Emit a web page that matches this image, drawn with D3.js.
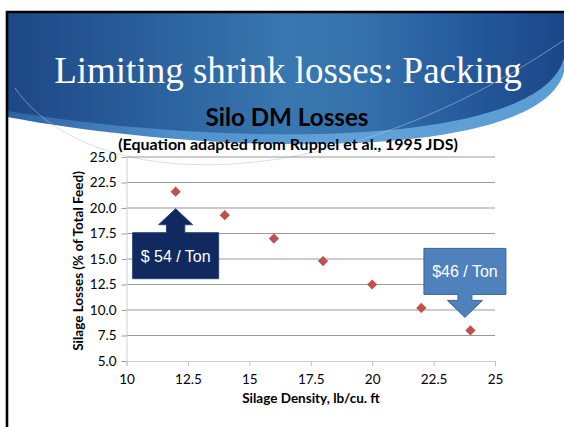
<!DOCTYPE html>
<html>
<head>
<meta charset="utf-8">
<script src="https://cdn.jsdelivr.net/npm/d3@7"></script>
<style>
  html, body { margin: 0; padding: 0; background: #ffffff; }
  svg { display: block; }
</style>
</head>
<body>
<svg id="slide" width="564" height="427"></svg>
<script>
// Silage density (lb/cu. ft) and modelled DM loss (% of total feed)
const density = [12, 14, 16, 18, 20, 22, 24];
const losses  = [21.6, 19.3, 17.0, 14.8, 12.5, 10.2, 8.0];

const xTicks = [10, 12.5, 15, 17.5, 20, 22.5, 25];
const yTicks = [5.0, 7.5, 10.0, 12.5, 15.0, 17.5, 20.0, 22.5, 25.0];

// Cost callouts: which point each one refers to, and its text
const calloutText  = ["$ 54 / Ton", "$46 / Ton"];
const calloutPoint = [0, 6];

const slideTitle = "Limiting shrink losses: Packing";
const chartTitle = "Silo DM Losses";
const chartSubtitle = "(Equation adapted from Ruppel et al., 1995 JDS)";
const xTitle = "Silage Density, lb/cu. ft";
const yTitle = "Silage Losses (% of Total Feed)";

const svg = d3.select("#slide");
const defs = svg.append("defs");

// ---- slide header ----
const hdr = defs.append("linearGradient").attr("id", "hdrGrad")
  .attr("x1", "0%").attr("x2", "100%").attr("y1", "0%").attr("y2", "0%");
[["0%", "#1d4785"], ["25%", "#2a5f9c"], ["50%", "#3877b0"], ["62%", "#3673ad"], ["85%", "#23579a"], ["100%", "#1b4788"]]
  .forEach(([o, c]) => hdr.append("stop").attr("offset", o).attr("stop-color", c));

const band = defs.append("linearGradient").attr("id", "bandGrad")
  .attr("x1", "0%").attr("x2", "100%").attr("y1", "0%").attr("y2", "0%");
[["0%", "#2c64a2"], ["30%", "#4f8fca"], ["60%", "#62a2d8"], ["100%", "#5b9cd4"]]
  .forEach(([o, c]) => band.append("stop").attr("offset", o).attr("stop-color", c));

// lower edge of the light band
svg.append("path")
  .attr("d", "M7,12 H564 V72 C540,160 230,158 7,117 Z")
  .attr("fill", "url(#bandGrad)");
// dark header body
svg.append("path")
  .attr("d", "M7,12 H564 V58 C540,148 230,148 7,111 Z")
  .attr("fill", "url(#hdrGrad)");

// thin decorative arc
svg.append("path")
  .attr("d", "M15,88 C90,195 330,200 564,40")
  .attr("fill", "none")
  .attr("stroke", "#b8c4d0")
  .attr("stroke-opacity", 0.55)
  .attr("stroke-width", 1);

// slide frame (top and left edges visible)
svg.append("path")
  .attr("d", "M7,427 V12 H564")
  .attr("fill", "none")
  .attr("stroke", "#000")
  .attr("stroke-width", 2.6);

svg.append("text")
  .attr("x", 288).attr("y", 83)
  .attr("text-anchor", "middle")
  .attr("font-family", "'Liberation Serif', 'DejaVu Serif', serif")
  .attr("font-size", 37)
  .attr("fill", "#ffffff")
  .text(slideTitle);

// ---- chart ----
const x = d3.scaleLinear().domain([10, 25]).range([126.5, 495]);
const y = d3.scaleLinear().domain([5, 25]).range([361, 157]);

const sans = "Lato, 'Open Sans', 'Liberation Sans', sans-serif";

svg.append("text")
  .attr("x", 287).attr("y", 126)
  .attr("text-anchor", "middle")
  .attr("font-family", sans).attr("font-weight", 700)
  .attr("font-size", 24.2).attr("fill", "#000")
  .text(chartTitle);

svg.append("text")
  .attr("x", 288).attr("y", 150)
  .attr("text-anchor", "middle")
  .attr("font-family", sans).attr("font-weight", 700)
  .attr("font-size", 16).attr("fill", "#000")
  .text(chartSubtitle);

// horizontal gridlines
svg.append("g")
  .selectAll("line")
  .data(yTicks.filter(v => v > 5))
  .join("line")
  .attr("x1", x(10)).attr("x2", x(25))
  .attr("y1", d => y(d)).attr("y2", d => y(d))
  .attr("stroke", "#999999")
  .attr("stroke-width", 1);

// y axis
const yAxis = svg.append("g")
  .attr("transform", `translate(${x(10)},0)`)
  .call(d3.axisLeft(y).tickValues(yTicks).tickFormat(d3.format(".1f")).tickSize(5).tickPadding(5));
yAxis.select(".domain").attr("stroke", "#d0d0d0");
yAxis.selectAll(".tick line").attr("stroke", "#a0a0a0");
yAxis.selectAll("text")
  .attr("font-family", sans).attr("font-size", 13.5).attr("fill", "#000");

// x axis
const xAxis = svg.append("g")
  .attr("transform", `translate(0,${y(5)})`)
  .call(d3.axisBottom(x).tickValues(xTicks).tickFormat(d => String(d)).tickSize(5).tickPadding(8));
xAxis.select(".domain").attr("stroke", "#d0d0d0");
xAxis.selectAll(".tick line").attr("stroke", "#c0c0c0");
xAxis.selectAll("text")
  .attr("font-family", sans).attr("font-size", 13.5).attr("fill", "#000");

svg.append("text")
  .attr("x", 311).attr("y", 403)
  .attr("text-anchor", "middle")
  .attr("font-family", sans).attr("font-weight", 700)
  .attr("font-size", 13.5).attr("fill", "#000")
  .text(xTitle);

svg.append("text")
  .attr("transform", `translate(83,${(y(5) + y(25)) / 2 + 2}) rotate(-90)`)
  .attr("text-anchor", "middle")
  .attr("font-family", sans).attr("font-weight", 700)
  .attr("font-size", 13.5).attr("fill", "#000")
  .text(yTitle);

// data points as diamonds
const diamond = d3.symbol().type(d3.symbolSquare).size(52);
svg.append("g")
  .selectAll("path")
  .data(density.map((d, i) => ({ d, v: losses[i] })))
  .join("path")
  .attr("d", diamond)
  .attr("transform", p => `translate(${x(p.d)},${y(p.v)}) rotate(45)`)
  .attr("fill", "#c0504d");

// ---- arrow callouts ----
// up-arrow callout sitting below a point
function upCallout(px, tipY, txt) {
  const hw = 43, stem = 9.2, head = 17, headH = 16, stemH = 8, boxH = 46;
  const baseY = tipY + headH, boxTop = baseY + stemH, boxBot = boxTop + boxH;
  const d = [
    [px, tipY], [px + head, baseY], [px + stem, baseY], [px + stem, boxTop],
    [px + hw, boxTop], [px + hw, boxBot], [px - hw, boxBot], [px - hw, boxTop],
    [px - stem, boxTop], [px - stem, baseY], [px - head, baseY]
  ];
  svg.append("path")
    .attr("d", "M" + d.map(p => p.join(",")).join("L") + "Z")
    .attr("fill", "#10295e").attr("stroke", "#2b4576").attr("stroke-width", 1);
  svg.append("text")
    .attr("x", px).attr("y", (boxTop + boxBot) / 2 + 6)
    .attr("text-anchor", "middle")
    .attr("font-family", "'Liberation Sans', Arial, sans-serif")
    .attr("font-size", 16).attr("fill", "#fff")
    .text(txt);
}

// down-arrow callout sitting above a point
function downCallout(px, tipY, txt) {
  const hw = 41, stem = 7, head = 17.5, headH = 17, stemH = 6, boxH = 46;
  const baseY = tipY - headH, boxBot = baseY - stemH, boxTop = boxBot - boxH;
  const d = [
    [px, tipY], [px + head, baseY], [px + stem, baseY], [px + stem, boxBot],
    [px + hw, boxBot], [px + hw, boxTop], [px - hw, boxTop], [px - hw, boxBot],
    [px - stem, boxBot], [px - stem, baseY], [px - head, baseY]
  ];
  svg.append("path")
    .attr("d", "M" + d.map(p => p.join(",")).join("L") + "Z")
    .attr("fill", "#4f81bd").attr("stroke", "#3b6594").attr("stroke-width", 1);
  svg.append("text")
    .attr("x", px).attr("y", (boxTop + boxBot) / 2 + 6)
    .attr("text-anchor", "middle")
    .attr("font-family", "'Liberation Sans', Arial, sans-serif")
    .attr("font-size", 16).attr("fill", "#fff")
    .text(txt);
}

{
  const i0 = calloutPoint[0];
  upCallout(x(density[i0]), y(losses[i0]) + 17, calloutText[0]);
  const i1 = calloutPoint[1];
  downCallout(x(density[i1]) - 5.5, y(losses[i1]) - 13, calloutText[1]);
}
</script>
</body>
</html>
